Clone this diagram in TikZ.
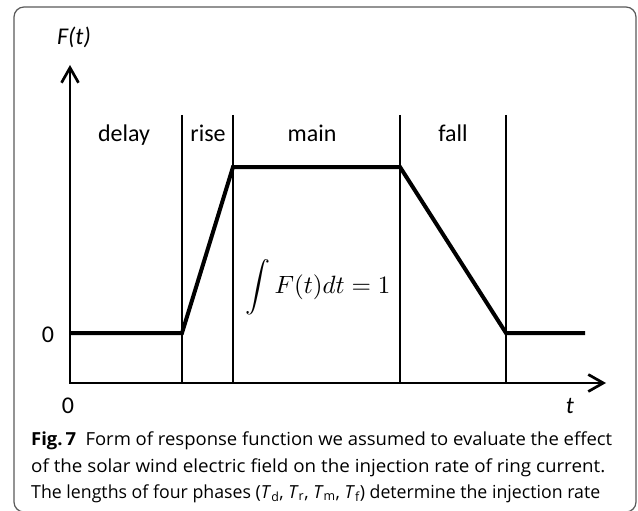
\documentclass[tikz,border=0pt]{standalone}
\usepackage{graphicx}
\usepackage{fontspec}
\setmainfont{Carlito}
\newfontfamily\capfont{Open Sans}
\usetikzlibrary{arrows.meta}
\begin{document}
\begin{tikzpicture}[x=1pt,y=-1pt,
  axis/.style={line width=2.7pt, line join=miter,
    {Straight Barb[length=15pt,width=17pt,line width=2.7pt]}-{Straight Barb[length=15pt,width=17pt,line width=2.7pt]}},
  phase/.style={line width=2.6pt},
  curve/.style={line width=4pt, line join=miter, line cap=butt},
  lbl/.style={font=\fontsize{24}{28}\selectfont, inner sep=0pt, anchor=base},
  captext/.style={font=\capfont\fontsize{18}{21}\selectfont, inner sep=0pt, anchor=base west},
  frame/.style={draw=black!65, line width=1.2pt, rounded corners=10pt}
]
\useasboundingbox (0,0) rectangle (638,511);
\begin{scope}
  \clip (0,0) rectangle (638,511);
  \draw[frame] (14,7) rectangle (636,512);
\end{scope}
% axes
\coordinate (O) at (70,383);
\coordinate (ytip) at (70,65);
\coordinate (xtip) at (606,383);
\draw[axis] (ytip) -- (O) -- (xtip);
% phase boundaries
\foreach \n/\x in {a/182,b/233,c/400,d/506}{
  \coordinate (\n top) at (\x,115);
  \coordinate (\n bot) at (\x,383);
  \draw[phase] (\n top) -- (\n bot);
}
% response function
\coordinate (p0) at (70,333);
\coordinate (p1) at (182,333);
\coordinate (p2) at (233,167);
\coordinate (p3) at (400,167);
\coordinate (p4) at (506,333);
\coordinate (p5) at (585,333);
\draw[curve] (p0) -- (p1) -- (p2) -- (p3) -- (p4) -- (p5);
% labels
\node[lbl] (Ft) at (74,45) {\itshape F(t)};
\node[lbl] (delay) at (124,142) {delay};
\node[lbl] (rise) at (208,142) {rise};
\node[lbl] (main) at (312,142) {main};
\node[lbl] (fall) at (453,142) {fall};
\node[lbl] (zeroy) at (48,342) {0};
\node[lbl] (zerox) at (68,413) {0};
\node[lbl] (tlab) at (570,413) {\itshape t};
\node[inner sep=0pt] (integral) at (318,287)
  {\scalebox{2.5}{$\displaystyle\int F(t)dt = 1$}};
% caption
\node[captext] (c1) at (31,445) {\resizebox{581pt}{\height}{\textbf{Fig.\,7}\hspace{0.5em}Form of response function we assumed to evaluate the effect}};
\node[captext] (c2) at (31,472) {\resizebox{574pt}{\height}{of the solar wind electric field on the injection rate of ring current.}};
\node[captext] (c3) at (31,498) {\resizebox{569pt}{\height}{The lengths of four phases (\textit{T}\textsubscript{d}, \textit{T}\textsubscript{r}, \textit{T}\textsubscript{m}, \textit{T}\textsubscript{f}) determine the injection rate}};
\end{tikzpicture}
\end{document}
